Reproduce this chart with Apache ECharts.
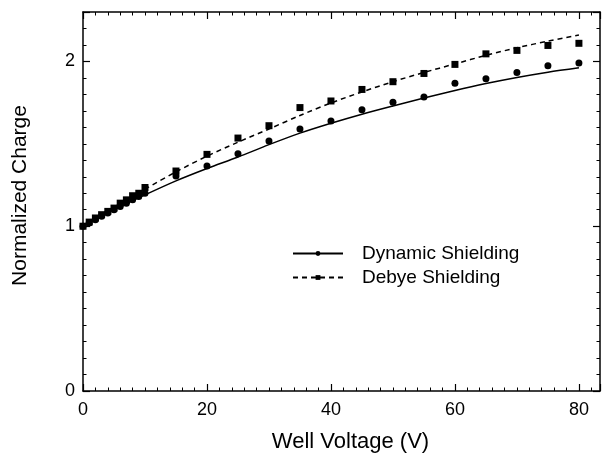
<!DOCTYPE html>
<html>
<head>
<meta charset="utf-8">
<script src="https://cdn.jsdelivr.net/npm/echarts@6/dist/echarts.min.js"></script>
<style>
html,body{margin:0;padding:0;background:#fff;}
#chart{width:603px;height:454px;}
</style>
</head>
<body>
<div id="chart"></div>
<script>
const pointVoltage = [0,1,2,3,4,5,6,7,8,9,10,15,20,25,30,35,40,45,50,55,60,65,70,75,80];
const dynamicPoints = [1.0,1.02,1.04,1.06,1.08,1.10,1.12,1.14,1.16,1.18,1.20,1.305,1.365,1.44,1.517,1.59,1.638,1.707,1.753,1.784,1.867,1.895,1.933,1.974,1.99];
const debyePoints = [1.0,1.025,1.05,1.07,1.09,1.11,1.14,1.16,1.185,1.20,1.235,1.335,1.436,1.535,1.61,1.72,1.76,1.83,1.877,1.927,1.982,2.046,2.067,2.097,2.11];
const curveVoltage = [0,5,10,15,20,25,30,35,40,45,50,55,60,65,70,75,80];
const dynamicCurve = [1.0,1.10,1.19,1.275,1.35,1.42,1.495,1.565,1.625,1.68,1.73,1.778,1.824,1.866,1.903,1.935,1.962];
const debyeCurve = [1.0,1.115,1.225,1.33,1.425,1.51,1.59,1.672,1.748,1.815,1.877,1.933,1.985,2.037,2.083,2.123,2.16];
const xTickLabels = [0,20,40,60,80];
const yTickLabels = [0,1,2];

const zip = (xs, ys) => xs.map((x, i) => [x, ys[i]]);
const FONT = 'Liberation Sans';

const chart = echarts.init(document.getElementById('chart'));
const axisCommon = {
  axisLine: {show: true, onZero: false, lineStyle: {color: '#000', width: 1.5}},
  axisTick: {show: true, inside: true, length: 7, lineStyle: {color: '#000', width: 1.2}},
  minorTick: {show: true, splitNumber: 10, length: 3.5, lineStyle: {color: '#000', width: 1}},
  splitLine: {show: false}
};
chart.setOption({
  animation: false,
  backgroundColor: '#fff',
  grid: {left: 83, right: 3, top: 12, bottom: 63, containLabel: false, outerBoundsMode: 'none'},
  xAxis: [
    Object.assign({}, axisCommon, {
      type: 'value', min: 0, max: 83.4, interval: 20, position: 'bottom',
      name: 'Well Voltage (V)', nameLocation: 'middle', nameGap: 40,
      nameTextStyle: {fontFamily: FONT, fontSize: 22, color: '#000', padding: [0, 0, 0, 18]},
      axisLabel: {fontFamily: FONT, fontSize: 18, color: '#000', margin: 10,
        formatter: v => xTickLabels.includes(v) ? String(v) : ''}
    }),
    Object.assign({}, axisCommon, {
      type: 'value', min: 0, max: 83.4, interval: 20, position: 'top',
      axisLabel: {show: false}
    })
  ],
  yAxis: [
    Object.assign({}, axisCommon, {
      type: 'value', min: 0, max: 2.3, interval: 1, position: 'left',
      name: 'Normalized Charge', nameLocation: 'middle', nameGap: 52,
      nameTextStyle: {fontFamily: FONT, fontSize: 21, color: '#000', padding: [0, 0, 0, 12]},
      axisLabel: {fontFamily: FONT, fontSize: 18, color: '#000', margin: 8,
        formatter: v => yTickLabels.includes(v) ? String(v) : ''}
    }),
    Object.assign({}, axisCommon, {
      type: 'value', min: 0, max: 2.3, interval: 1, position: 'right',
      axisLabel: {show: false}
    })
  ],
  legend: {
    data: ['Dynamic Shielding', 'Debye Shielding'],
    orient: 'vertical', left: 287, top: 239, itemWidth: 50, itemHeight: 6, itemGap: 5,
    textStyle: {fontFamily: FONT, fontSize: 19, color: '#000', padding: [0, 0, 0, 14]}
  },
  series: [
    {
      name: 'Dynamic Shielding', type: 'line', data: zip(curveVoltage, dynamicCurve),
      smooth: 0.3, symbol: 'circle', showSymbol: false,
      lineStyle: {color: '#000', width: 1.5}, itemStyle: {color: '#000'}
    },
    {
      name: 'Debye Shielding', type: 'line', data: zip(curveVoltage, debyeCurve),
      smooth: 0.3, symbol: 'rect', showSymbol: false,
      lineStyle: {color: '#000', width: 1.5, type: [5, 4]}, itemStyle: {color: '#000'}
    },
    {
      name: 'Dynamic points', type: 'scatter', data: zip(pointVoltage, dynamicPoints),
      symbol: 'circle', symbolSize: 7, itemStyle: {color: '#000', opacity: 1}
    },
    {
      name: 'Debye points', type: 'scatter', data: zip(pointVoltage, debyePoints),
      symbol: 'rect', symbolSize: 7, itemStyle: {color: '#000', opacity: 1}
    }
  ]
});
</script>
</body>
</html>
